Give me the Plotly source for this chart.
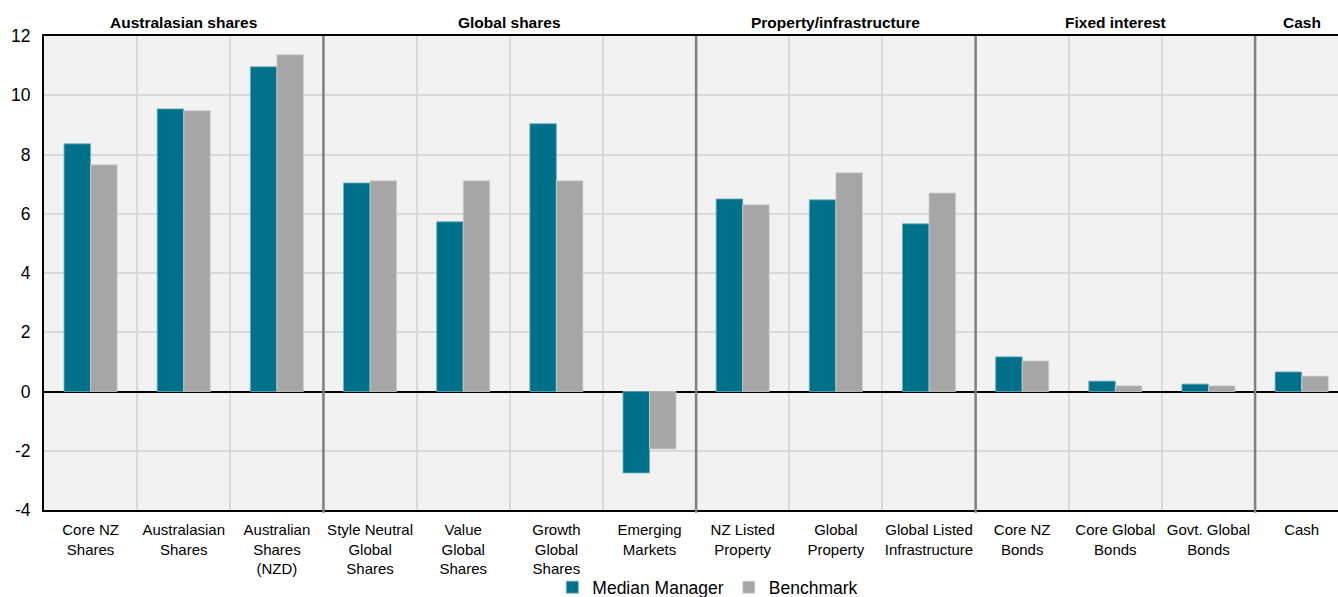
import plotly.graph_objects as go

categories = [
    "Core NZ<br>Shares", "Australasian<br>Shares", "Australian<br>Shares<br>(NZD)",
    "Style Neutral<br>Global<br>Shares", "Value<br>Global<br>Shares", "Growth<br>Global<br>Shares",
    "Emerging<br>Markets", "NZ Listed<br>Property", "Global<br>Property",
    "Global Listed<br>Infrastructure", "Core NZ<br>Bonds", "Core Global<br>Bonds",
    "Govt. Global<br>Bonds", "Cash",
]
median_manager = [8.36, 9.54, 10.96, 7.04, 5.73, 9.04, -2.75, 6.50, 6.47, 5.66, 1.17, 0.35, 0.25, 0.66]
benchmark = [7.65, 9.48, 11.37, 7.11, 7.11, 7.11, -1.94, 6.30, 7.38, 6.70, 1.03, 0.19, 0.19, 0.52]

groups = ["Australasian shares", "Global shares", "Property/infrastructure", "Fixed interest", "Cash"]
group_sizes = [3, 4, 3, 3, 1]

y_tickvals = [-4, -2, 0, 2, 4, 6, 8, 10, 12]
y_ticktext = ["-4", "-2", "0", "2", "4", "6", "8", "10", "12"]

FONT = "Liberation Sans, Arial, sans-serif"

fig = go.Figure()
fig.add_trace(go.Bar(x=categories, y=median_manager, name="Median Manager",
                     marker=dict(color="#00718a", line=dict(color="#6fb3c2", width=0.8))))
fig.add_trace(go.Bar(x=categories, y=benchmark, name="Benchmark",
                     marker=dict(color="#a6a6a6", line=dict(color="#cfcfcf", width=0.8))))

shapes = []
annotations = []
start = 0
for i, (g, n) in enumerate(zip(groups, group_sizes)):
    center = start + (n - 1) / 2
    annotations.append(dict(x=center, y=1, xref="x", yref="paper", text=f"<b>{g}</b>",
                            showarrow=False, yanchor="bottom", yshift=3,
                            font=dict(family=FONT, size=15.5, color="#000000")))
    end = start + n
    if i < len(groups) - 1:
        shapes.append(dict(type="line", xref="x", yref="paper", x0=end - 0.5, x1=end - 0.5,
                           y0=-0.006, y1=1, line=dict(color="#808080", width=2.5), layer="above"))
    start = end

fig.update_layout(
    width=1338, height=597,
    margin=dict(l=44, r=0, t=36, b=87, autoexpand=False),
    paper_bgcolor="#ffffff", plot_bgcolor="#f2f2f2",
    barmode="group", bargap=0.43, bargroupgap=0,
    font=dict(family=FONT, color="#000000"),
    showlegend=True,
    legend=dict(orientation="h", x=0.513, xanchor="center", y=-0.125, yanchor="top",
                bgcolor="rgba(0,0,0,0)",
                font=dict(family=FONT, size=17.5, color="#000000"),
                itemwidth=30, tracegroupgap=0),
    shapes=shapes,
    annotations=annotations,
)
fig.update_xaxes(
    type="category", range=[-0.5, 13.39],
    tickson="boundaries", showgrid=True, gridcolor="#d9d9d9", gridwidth=1.5,
    showline=True, linecolor="#000000", linewidth=2, mirror=True, automargin=False,
    ticks="", tickfont=dict(family=FONT, size=15, color="#000000"), tickangle=0,
    ticklabelstandoff=5,
)
fig.update_yaxes(
    range=[-4, 12], tickmode="array", tickvals=y_tickvals, ticktext=y_ticktext,
    showgrid=True, gridcolor="#d9d9d9", gridwidth=1.5,
    zeroline=True, zerolinecolor="#000000", zerolinewidth=1.5,
    showline=True, linecolor="#000000", linewidth=2, ticks="", automargin=False,
    tickfont=dict(family=FONT, size=17.5, color="#000000"), ticklabelstandoff=8,
)

fig.write_html("out.html")
